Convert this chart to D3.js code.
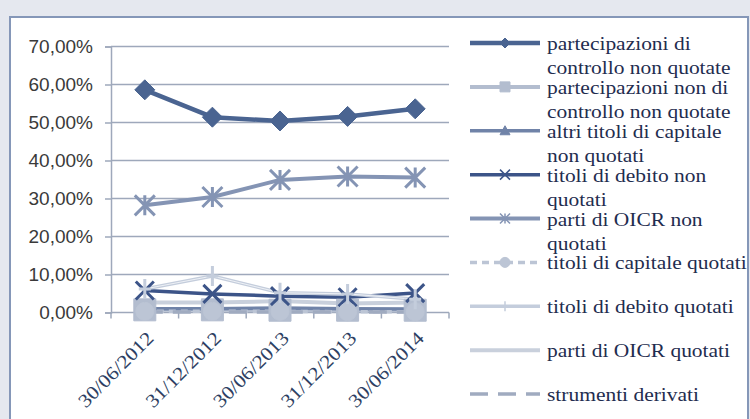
<!DOCTYPE html>
<html>
<head>
<meta charset="utf-8">
<script src="https://cdn.jsdelivr.net/npm/d3@7"></script>
<style>
  html, body { margin: 0; padding: 0; background: #e5e8ef; }
  svg { display: block; }
</style>
</head>
<body>
<svg id="chart" width="750" height="419"></svg>
<script>
// Composizione del portafoglio per tipologia di strumento
const categories = ["30/06/2012", "31/12/2012", "30/06/2013", "31/12/2013", "30/06/2014"];
const yTicks = [0, 10, 20, 30, 40, 50, 60, 70];

const seriesNames = [
  ["partecipazioni di", "controllo non quotate"],
  ["partecipazioni non di", "controllo non quotate"],
  ["altri titoli di capitale", "non quotati"],
  ["titoli di debito non", "quotati"],
  ["parti di OICR non", "quotati"],
  ["titoli di capitale quotati"],
  ["titoli di debito quotati"],
  ["parti di OICR quotati"],
  ["strumenti derivati"]
];

const partecipazioniControllo = [58.6, 51.4, 50.4, 51.6, 53.6];
const partecipazioniNonControllo = [0.7, 0.7, 0.6, 0.6, 0.6];
const altriTitoliCapitale = [1.0, 1.0, 1.2, 1.0, 0.9];
const titoliDebitoNonQuotati = [5.8, 4.9, 4.3, 4.0, 5.1];
const oicrNonQuotati = [28.2, 30.4, 34.9, 35.8, 35.5];
const titoliCapitaleQuotati = [0.3, 0.3, 0.3, 0.2, 0.2];
const titoliDebitoQuotati = [6.2, 9.6, 5.2, 4.9, 3.5];
const oicrQuotati = [2.6, 2.6, 3.0, 2.4, 2.6];
const strumentiDerivati = [0.1, 0.1, 0.1, 0.1, 0.1];

const seriesValues = [
  partecipazioniControllo, partecipazioniNonControllo, altriTitoliCapitale,
  titoliDebitoNonQuotati, oicrNonQuotati, titoliCapitaleQuotati,
  titoliDebitoQuotati, oicrQuotati, strumentiDerivati
];

// appearance of each series: colour, stroke width, dash, marker
const styles = [
  { color: "#4a6491", width: 4.5, dash: null, marker: "diamond", size: 20 },
  { color: "#b3bdcf", width: 4, dash: null, marker: "square", size: 22 },
  { color: "#7083a8", width: 3.5, dash: null, marker: "triangle", size: 12 },
  { color: "#3c5488", width: 3.5, dash: null, marker: "x", size: 18 },
  { color: "#8494b4", width: 4, dash: null, marker: "asterisk", size: 20 },
  { color: "#bcc5d5", width: 3.5, dash: "7,5", marker: "circle", size: 18 },
  { color: "#c4cddc", width: 3.5, dash: null, marker: "plus", size: 20 },
  { color: "#c9d0dc", width: 4, dash: null, marker: null, size: 0 },
  { color: "#a0abc0", width: 3.5, dash: "18,10", marker: null, size: 0 }
];

const serifFont = "'Liberation Serif', 'Times New Roman', serif";
const textStretch = 1.13;

const svg = d3.select("#chart");

// outer panel
svg.append("rect")
  .attr("x", 10).attr("y", 17)
  .attr("width", 738).attr("height", 420)
  .attr("fill", "#ffffff")
  .attr("stroke", "#8597b8").attr("stroke-width", 2);

const plot = { left: 111, right: 449, top: 46.5, bottom: 312.5 };

const x = d3.scalePoint().domain(categories).range([plot.left, plot.right]).padding(0.5);
const y = d3.scaleLinear().domain([0, 70]).range([plot.bottom, plot.top]);

// gridlines
svg.append("g")
  .selectAll("line")
  .data(yTicks.filter(d => d > 0))
  .join("line")
  .attr("x1", plot.left).attr("x2", plot.right)
  .attr("y1", d => y(d)).attr("y2", d => y(d))
  .attr("stroke", "#9ea8bb").attr("stroke-width", 1.5);

// y axis
const fmt = d => d3.format(".2f")(d).replace(".", ",") + "%";
const yAxis = svg.append("g")
  .attr("transform", `translate(${plot.left},0)`)
  .call(d3.axisLeft(y).tickValues(yTicks).tickFormat(fmt).tickSize(6).tickPadding(12));
yAxis.select(".domain").attr("stroke", "#9ea8bb").attr("stroke-width", 1.5);
yAxis.selectAll(".tick line").attr("stroke", "#9ea8bb").attr("stroke-width", 1.5);
yAxis.selectAll(".tick text")
  .attr("font-family", "'Liberation Sans', Arial, sans-serif")
  .attr("font-size", 19)
  .attr("fill", "#3a3a3a");

// x axis (ticks between categories)
const step = x.step();
const boundaries = d3.range(categories.length + 1).map(i => plot.left + i * step);
const xAxisG = svg.append("g");
xAxisG.append("line")
  .attr("x1", plot.left).attr("x2", plot.right)
  .attr("y1", plot.bottom).attr("y2", plot.bottom)
  .attr("stroke", "#9ea8bb").attr("stroke-width", 1.5);
xAxisG.selectAll("line.tk")
  .data(boundaries)
  .join("line")
  .attr("class", "tk")
  .attr("x1", d => d).attr("x2", d => d)
  .attr("y1", plot.bottom).attr("y2", plot.bottom + 6)
  .attr("stroke", "#9ea8bb").attr("stroke-width", 1.5);
xAxisG.selectAll("text")
  .data(categories)
  .join("text")
  .attr("transform", d => `translate(${x(d) + 10},${plot.bottom + 27}) rotate(-45) scale(${textStretch},1)`)
  .attr("text-anchor", "end")
  .attr("font-family", serifFont)
  .attr("font-size", 19)
  .attr("fill", "#2e3f63")
  .text(d => d);

// marker paths
function markerPath(type, s) {
  const h = s / 2;
  switch (type) {
    case "diamond": return `M0,${-h}L${h},0L0,${h}L${-h},0Z`;
    case "square": return `M${-h},${-h}H${h}V${h}H${-h}Z`;
    case "triangle": return `M0,${-h}L${h},${h * 0.8}L${-h},${h * 0.8}Z`;
    case "circle": return d3.symbol(d3.symbolCircle, Math.PI * h * h)();
    case "x": return `M${-h},${-h}L${h},${h}M${h},${-h}L${-h},${h}`;
    case "plus": return `M0,${-h}V${h}M${-h * 0.6},0H${h * 0.6}`;
    case "asterisk": return `M${-h},${-h}L${h},${h}M${h},${-h}L${-h},${h}M0,${-h}V${h}`;
  }
  return "";
}
const filled = t => t === "diamond" || t === "square" || t === "triangle" || t === "circle";

const line = d3.line().x((d, i) => x(categories[i])).y(d => y(d));

// lines
svg.append("g")
  .selectAll("path")
  .data(seriesValues)
  .join("path")
  .attr("d", d => line(d))
  .attr("fill", "none")
  .attr("stroke", (d, i) => styles[i].color)
  .attr("stroke-width", (d, i) => styles[i].width)
  .attr("stroke-dasharray", (d, i) => styles[i].dash)
  .attr("stroke-linejoin", "round");

// light highlight along the "titoli di debito quotati" line
svg.append("path")
  .attr("d", line(titoliDebitoQuotati))
  .attr("fill", "none")
  .attr("stroke", "#eef1f6")
  .attr("stroke-width", 1)
  .attr("stroke-linejoin", "round");

// markers
seriesValues.forEach((vals, si) => {
  const st = styles[si];
  if (!st.marker) return;
  svg.append("g")
    .selectAll("path")
    .data(vals)
    .join("path")
    .attr("transform", (d, i) => `translate(${x(categories[i])},${y(d)})`)
    .attr("d", markerPath(st.marker, st.size))
    .attr("fill", filled(st.marker) ? st.color : "none")
    .attr("stroke", st.color)
    .attr("stroke-width", filled(st.marker) ? 1 : 3);
});

// legend
const legendY = d3.scaleLinear().domain([0, seriesNames.length - 1]).range([43, 394]);
const legend = svg.append("g");
seriesNames.forEach((lines, i) => {
  const st = styles[i];
  const ly = legendY(i);
  const g = legend.append("g").attr("transform", `translate(0,${ly})`);
  g.append("line")
    .attr("x1", 470).attr("x2", 540).attr("y1", 0).attr("y2", 0)
    .attr("stroke", st.color)
    .attr("stroke-width", st.width)
    .attr("stroke-dasharray", st.dash);
  if (st.marker) {
    g.append("path")
      .attr("transform", "translate(505,0)")
      .attr("d", markerPath(st.marker, 10))
      .attr("fill", filled(st.marker) ? st.color : "none")
      .attr("stroke", st.color)
      .attr("stroke-width", filled(st.marker) ? 1 : 1.5);
  }
  const tg = g.append("g").attr("transform", `translate(547,0) scale(${textStretch},1)`);
  lines.forEach((t, k) => {
    tg.append("text")
      .attr("x", 0)
      .attr("y", 7 + k * 24.5)
      .attr("font-family", serifFont)
      .attr("font-size", 19)
      .attr("fill", "#1f2d4f")
      .text(t);
  });
});
</script>
</body>
</html>
